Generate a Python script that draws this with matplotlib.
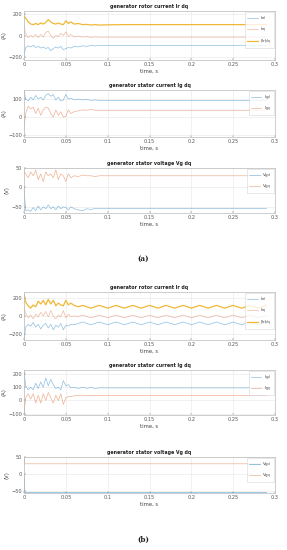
import matplotlib
matplotlib.use("Agg")
import matplotlib.pyplot as plt

# ---------------- data ----------------
t_early = [0, 0.002, 0.005, 0.008, 0.011, 0.014, 0.017, 0.02, 0.023, 0.026, 0.029,
           0.032, 0.035, 0.038, 0.041, 0.044, 0.047, 0.05, 0.053, 0.056, 0.06]
t_late_a = [0.065, 0.07, 0.075, 0.08, 0.085, 0.09, 0.1, 0.12, 0.15, 0.2, 0.25, 0.29]
t_a = t_early + t_late_a

# (a) rotor current
a_ird = [-180, -110, -95, -105, -90, -110, -100, -115, -105, -120, -110, -140, -120, -105, -115, -100, -130, -120, -110, -115, -100,
         -105, -95, -100, -92, -95, -90, -90, -90, -90, -90, -90, -90]
a_irq = [85, 20, -20, 0, -15, 10, -20, 10, -15, 30, 40, 0, -25, 0, -10, 20, 0, 35, -10, 10, -15,
         -5, -15, -10, -18, -12, -15, -15, -15, -15, -15, -15, -15]
a_irm = [180, 160, 125, 105, 100, 110, 100, 115, 105, 120, 145, 125, 110, 105, 115, 105, 100, 135, 110, 125, 105,
         110, 100, 102, 96, 100, 96, 98, 100, 100, 100, 100, 100]
# (a) stator current
a_igd = [150, 100, 90, 110, 95, 120, 100, 110, 95, 120, 130, 115, 125, 95, 110, 90, 95, 125, 100, 105, 95,
         100, 95, 98, 93, 95, 92, 92, 92, 92, 92, 92, 92]
a_igq = [-60, 20, 60, 45, 55, 20, 50, 10, 40, 55, 50, 20, 0, 40, 10, 30, 0, 5, 40, 20, 30,
         35, 40, 38, 42, 38, 38, 38, 38, 38, 38, 38, 38]
# (a) stator voltage
a_vgd = [0, -60, -58, -62, -52, -60, -48, -58, -50, -55, -45, -55, -50, -58, -48, -55, -50, -52, -58, -50, -55,
         -58, -60, -55, -57, -54, -55, -54, -54, -54, -54, -54, -54]
a_vgq = [40, 35, 25, 40, 30, 45, 20, 35, 15, 40, 30, 35, 25, 45, 20, 35, 30, 15, 35, 25, 30,
         28, 32, 30, 30, 28, 30, 30, 30, 30, 30, 30, 30]

# (b)
t_late_b = [0.065, 0.07, 0.075, 0.08, 0.085, 0.09, 0.095, 0.1, 0.105, 0.11, 0.115, 0.12,
            0.125, 0.13, 0.135, 0.14, 0.145, 0.15, 0.155, 0.16, 0.165, 0.17, 0.175, 0.18,
            0.185, 0.19, 0.195, 0.2, 0.205, 0.21, 0.215, 0.22, 0.225, 0.23, 0.235, 0.24,
            0.245, 0.25, 0.255, 0.26, 0.265, 0.27, 0.275, 0.28, 0.285, 0.29]
t_b1 = t_early + t_late_b
b_irm = [240, 150, 110, 85, 120, 100, 160, 130, 170, 120, 180, 130, 170, 110, 140, 120, 110, 170, 120, 140, 115,
         100, 115, 100, 85, 100, 115, 100, 85, 100, 115, 100, 85, 100, 115, 100, 85, 100, 115, 100, 85,
         100, 115, 100, 85, 100, 115, 100, 85, 100, 115, 100, 85, 100, 115, 100, 85, 100, 115, 100, 85,
         100, 115, 100, 85, 100, 115]
b_irq = [100, 30, -20, 10, -30, 20, -10, 40, 0, 50, -10, 60, 0, -30, 10, -10, 60, -20, 20, -5, 0,
         -5, 10, -5, -20, -5, 10, -5, -20, -5, 10, -5, -20, -5, 10, -5, -20, -5, 10, -5, -20,
         -5, 10, -5, -20, -5, 10, -5, -20, -5, 10, -5, -20, -5, 10, -5, -20, -5, 10, -5, -20,
         -5, 10, -5, -20, -5, 10]
b_ird = [-250, -120, -90, -110, -70, -120, -90, -140, -100, -80, -130, -90, -150, -100, -120, -80, -150, -100, -110, -90, -95,
         -80, -65, -80, -95, -80, -65, -80, -95, -80, -65, -80, -95, -80, -65, -80, -95, -80, -65, -80, -95,
         -80, -65, -80, -95, -80, -65, -80, -95, -80, -65, -80, -95, -80, -65, -80, -95, -80, -65, -80, -95,
         -80, -65, -80, -95, -80, -65]
b_igd = [230, 110, 80, 100, 80, 130, 90, 140, 100, 170, 110, 160, 120, 90, 100, 80, 150, 110, 120, 95, 100,
         90, 100, 92, 98, 90, 95, 95, 95, 95, 95, 95, 95]
b_igq = [-100, 20, 50, 10, 50, -20, 40, -20, 50, 0, 60, 20, -20, 40, 0, 50, -30, 20, 30, 30, 35,
         38, 40, 36, 38, 38, 38, 38, 38, 38, 38, 38, 38]
t_b3 = [0, 0.001, 0.002, 0.29]
b_vgd = [0, -55, -55, -55]
b_vgq = [50, 30, 30, 30]

# ---------------- style ----------------
BLUE = "#0072BD"
ORANGE = "#D95319"
YELLOW = "#EDB120"
W, H = 287, 550

fig = plt.figure(figsize=(2.87, 5.5), dpi=100)
fig.patch.set_facecolor("white")


def make_ax(top, bottom, ylim, yticks, ylabel, title):
    ax = fig.add_axes([24 / W, 1 - bottom / H, 251 / W, (bottom - top) / H])
    ax.set_xlim(0, 0.3)
    ax.set_ylim(*ylim)
    ax.set_xticks([0, 0.05, 0.1, 0.15, 0.2, 0.25, 0.3])
    ax.set_xticklabels(["0", "0.05", "0.1", "0.15", "0.2", "0.25", "0.3"])
    ax.set_yticks(yticks)
    ax.tick_params(labelsize=3.6, colors="#555555", length=1.5, width=0.3, direction="in", pad=1.5)
    ax.grid(True, color="#e6e6e6", linewidth=0.4)
    ax.set_axisbelow(True)
    for s in ax.spines.values():
        s.set_color("#bbbbbb")
        s.set_linewidth(0.5)
    ax.set_ylabel(ylabel, fontsize=3.8, color="#444444", labelpad=1)
    ax.set_xlabel("time, s", fontsize=3.8, color="#444444", labelpad=1.5)
    ax.set_title(title, fontsize=3.4, fontweight="bold", color="#222222", pad=2)
    return ax


def legend(ax):
    leg = ax.legend(loc="upper right", fontsize=3.0, frameon=True, fancybox=False,
                    handlelength=2.6, borderpad=0.5, labelspacing=0.7, handletextpad=0.6,
                    borderaxespad=0.3)
    leg.get_frame().set_edgecolor("#cccccc")
    leg.get_frame().set_linewidth(0.4)
    for txt in leg.get_texts():
        txt.set_color("#444444")


# (a) rotor
ax = make_ax(11, 60, (-225, 225), [-200, 0, 200], "(A)", "generator rotor current Ir dq")
ax.plot(t_a, a_ird, color=BLUE, lw=0.5, alpha=0.45, label="Ir$_d$")
ax.plot(t_a, a_irq, color=ORANGE, lw=0.5, alpha=0.4, label="Ir$_q$")
ax.plot(t_a, a_irm, color=YELLOW, lw=0.9, alpha=0.9, label="|Ir|$_{dq}$")
legend(ax)

# (a) stator current
ax = make_ax(90, 137, (-110, 150), [-100, 0, 100], "(A)", "generator stator current Ig dq")
ax.plot(t_a, a_igd, color=BLUE, lw=0.5, alpha=0.45, label="Ig$_d$")
ax.plot(t_a, a_igq, color=ORANGE, lw=0.5, alpha=0.45, label="Ig$_q$")
legend(ax)

# (a) stator voltage
ax = make_ax(168, 213, (-66, 50), [-50, 0, 50], "(V)", "generator stator voltage Vg dq")
ax.plot(t_a, a_vgd, color=BLUE, lw=0.5, alpha=0.45, label="Vg$_d$")
ax.plot(t_a, a_vgq, color=ORANGE, lw=0.5, alpha=0.45, label="Vg$_q$")
legend(ax)

# (b) rotor
ax = make_ax(292, 340, (-260, 260), [-200, 0, 200], "(A)", "generator rotor current Ir dq")
ax.plot(t_b1, b_ird, color=BLUE, lw=0.5, alpha=0.45, label="Ir$_d$")
ax.plot(t_b1, b_irq, color=ORANGE, lw=0.5, alpha=0.4, label="Ir$_q$")
ax.plot(t_b1, b_irm, color=YELLOW, lw=0.9, alpha=0.9, label="|Ir|$_{dq}$")
legend(ax)

# (b) stator current
ax = make_ax(370, 415, (-110, 230), [-100, 0, 100, 200], "(A)", "generator stator current Ig dq")
ax.plot(t_a, b_igd, color=BLUE, lw=0.5, alpha=0.45, label="Ig$_d$")
ax.plot(t_a, b_igq, color=ORANGE, lw=0.5, alpha=0.45, label="Ig$_q$")
legend(ax)

# (b) stator voltage
ax = make_ax(457, 493, (-56, 50), [-50, 0, 50], "(V)", "generator stator voltage Vg dq")
ax.plot(t_b3, b_vgd, color=BLUE, lw=0.6, alpha=0.5, label="Vg$_d$")
ax.plot(t_b3, b_vgq, color=ORANGE, lw=0.5, alpha=0.45, label="Vg$_q$")
legend(ax)

fig.text(143 / W, 1 - 259 / H, "(a)", ha="center", va="center", fontsize=5.2,
         family="DejaVu Serif", fontweight="bold", color="#222222")
fig.text(143 / W, 1 - 540 / H, "(b)", ha="center", va="center", fontsize=5.2,
         family="DejaVu Serif", fontweight="bold", color="#222222")

fig.savefig("out.png", dpi=100, facecolor="white")
